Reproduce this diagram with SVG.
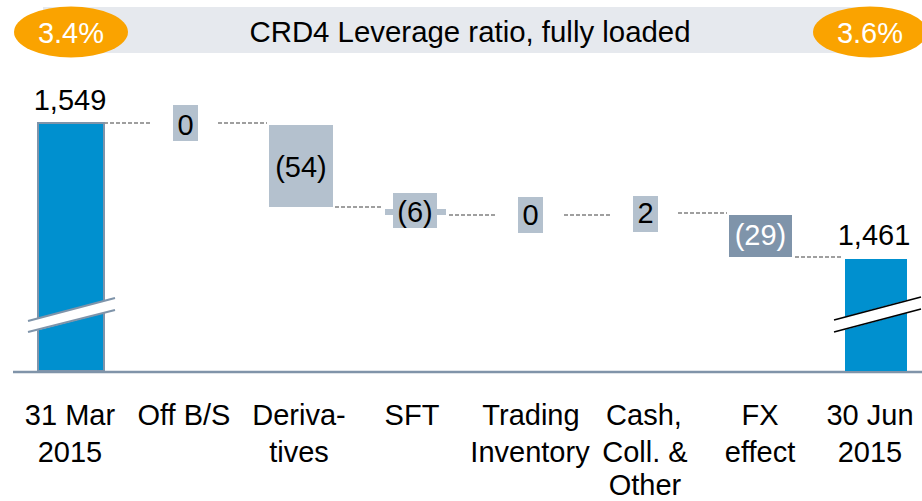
<svg xmlns="http://www.w3.org/2000/svg" width="922" height="501" viewBox="0 0 922 501">
<style>
text{font-family:"Liberation Sans",Arial,sans-serif;font-size:29px;fill:#000;text-anchor:middle}
.w{fill:#fff}
.blue{fill:#0090CF}
.box{fill:#B4C1CE}
.dark{fill:#7F94AA}
.dash{stroke:#808080;stroke-width:1.6;stroke-dasharray:4 2;fill:none}
</style>
<rect width="922" height="501" fill="#fff"/>
<g id="banner">
<rect x="43" y="7" width="840" height="46" fill="#E6E9EE"/>
<text x="470" y="42" style="font-size:29.4px">CRD4 Leverage ratio, fully loaded</text>
</g>
<g id="ratio-start">
<ellipse cx="71" cy="32" rx="57" ry="25.5" fill="#FAA300"/>
<text class="w" x="71" y="43">3.4%</text>
</g>
<g id="ratio-end">
<ellipse cx="870" cy="32" rx="57" ry="25.5" fill="#FAA300"/>
<text class="w" x="870" y="43">3.6%</text>
</g>
<g id="axis"><line x1="13" y1="372" x2="922" y2="372" stroke="#8094A9" stroke-width="2.5"/></g>
<g id="connectors">
<line class="dash" x1="104" y1="123" x2="152" y2="123"/>
<line class="dash" x1="218" y1="123" x2="267" y2="123"/>
<line class="dash" x1="335" y1="207" x2="383" y2="207"/>
<line class="dash" x1="449" y1="215" x2="497" y2="215"/>
<line class="dash" x1="564" y1="215" x2="612" y2="215"/>
<line class="dash" x1="678" y1="213" x2="727" y2="213"/>
<line class="dash" x1="795" y1="257" x2="843" y2="257"/>
</g>
<g id="bar-mar">
<rect class="blue" x="38" y="123" width="66" height="248" stroke="#7F94AA" stroke-width="2"/>
<polygon points="27,321 116,298 116,310 27,333" fill="#fff"/>
<line x1="28" y1="321" x2="115" y2="298" stroke="#7F94AA" stroke-width="2"/>
<line x1="28" y1="332" x2="115" y2="310" stroke="#7F94AA" stroke-width="2"/>
<text x="70" y="110">1,549</text>
</g>
<g id="offbs">
<rect class="box" x="173" y="105" width="25" height="36"/>
<text x="185.5" y="135">0</text>
</g>
<g id="derivatives">
<rect class="box" x="269" y="125" width="64" height="82"/>
<text x="301" y="177">(54)</text>
</g>
<g id="sft">
<rect class="box" x="385" y="209" width="61" height="6"/>
<rect class="box" x="393" y="193" width="44" height="35"/>
<text x="415" y="222">(6)</text>
</g>
<g id="trading">
<rect class="box" x="518" y="197" width="25" height="36"/>
<text x="530.5" y="225">0</text>
</g>
<g id="cash">
<rect class="box" x="633" y="196" width="25" height="36"/>
<text x="645.5" y="223">2</text>
</g>
<g id="fx">
<rect class="dark" x="729" y="215" width="63" height="42"/>
<text class="w" x="760.5" y="245">(29)</text>
</g>
<g id="bar-jun">
<rect class="blue" x="845" y="259" width="62" height="112"/>
<polygon points="833,320 922,296 922,309 833,333" fill="#fff"/>
<line x1="834" y1="320" x2="921" y2="297" stroke="#000" stroke-width="1.6"/>
<line x1="834" y1="332" x2="921" y2="309" stroke="#000" stroke-width="1.6"/>
<text x="874" y="245">1,461</text>
</g>
<g id="labels">
<text x="70" y="425">31 Mar</text><text x="70" y="462">2015</text>
<text x="184" y="425">Off B/S</text>
<text x="299" y="425">Deriva-</text><text x="299" y="462">tives</text>
<text x="412" y="425">SFT</text>
<text x="531" y="425">Trading</text><text x="530" y="462">Inventory</text>
<text x="644" y="425">Cash,</text><text x="645" y="462">Coll. &amp;</text><text x="645" y="495">Other</text>
<text x="760" y="425">FX</text><text x="760" y="462">effect</text>
<text x="870" y="425">30 Jun</text><text x="870" y="462">2015</text>
</g>
</svg>
